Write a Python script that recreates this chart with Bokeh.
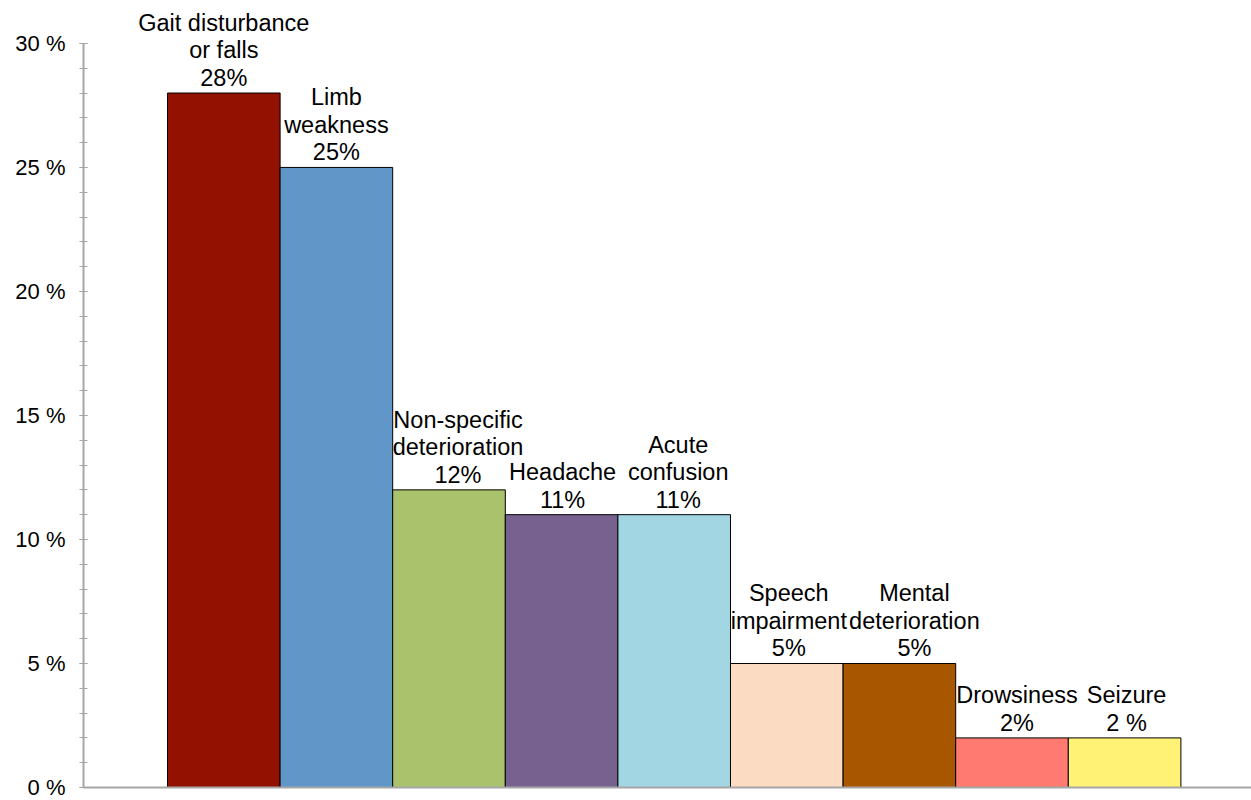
from bokeh.plotting import figure
from bokeh.models import ColumnDataSource, FixedTicker, Range1d
from bokeh.core.properties import value
from bokeh.embed import file_html
from bokeh.resources import INLINE

categories = ["Gait disturbance\nor falls", "Limb\nweakness", "Non-specific\ndeterioration",
              "Headache", "Acute\nconfusion", "Speech\nimpairment", "Mental\ndeterioration",
              "Drowsiness", "Seizure"]
values = [28, 25, 12, 11, 11, 5, 5, 2, 2]
value_labels = ["28%", "25%", "12%", "11%", "11%", "5%", "5%", "2%", "2 %"]
colors = ["#931100", "#6096C8", "#A9C26B", "#76618F", "#A3D6E3",
          "#FBDCC2", "#A85700", "#FF7B71", "#FFF275"]
y_ticks = [0, 5, 10, 15, 20, 25, 30]
y_tick_labels = ["0 %", "5 %", "10 %", "15 %", "20 %", "25 %", "30 %"]

# small horizontal nudges (pixels) of the labels, as in the original layout
label_nudge_px = [0, 0, 9, 1, 4, 2, 15, 5, 2]

xs = list(range(1, len(values) + 1))
src = ColumnDataSource(dict(
    x=xs, top=values, color=colors, dx=label_nudge_px,
    label=[c + "\n" + v for c, v in zip(categories, value_labels)],
))

FONT = "Liberation Sans"

p = figure(width=1251, height=800, output_backend="svg", toolbar_location=None,
           x_range=Range1d(-0.246, 10.127), y_range=Range1d(0, 31.73),
           min_border_left=83, min_border_right=0, min_border_top=0, min_border_bottom=13)
p.outline_line_color = None
p.xgrid.visible = False
p.ygrid.visible = False
p.background_fill_color = "white"
p.border_fill_color = "white"

p.vbar(x="x", top="top", bottom=0, width=1.0, fill_color="color",
       line_color="black", line_width=1, source=src)

p.text(x="x", y="top", text="label", source=src, text_align="center",
       x_offset="dx", text_baseline="bottom", y_offset=-2, text_font=value(FONT),
       text_font_size="23.5px", text_color="black", text_line_height=1.06)

ya = p.yaxis[0]
ya.ticker = FixedTicker(ticks=y_ticks, minor_ticks=list(range(0, 31)))
ya.major_label_overrides = {t: l for t, l in zip(y_ticks, y_tick_labels)}
ya.bounds = (0, 30)
ya.axis_line_color = "#A6A6A6"
ya.axis_line_width = 2
ya.major_tick_line_color = "#A6A6A6"
ya.minor_tick_line_color = "#A6A6A6"
ya.major_tick_in = 4
ya.major_tick_out = 4
ya.minor_tick_in = 4
ya.minor_tick_out = 4
ya.major_label_text_font = FONT
ya.major_label_text_font_size = "22px"
ya.major_label_text_color = "black"
ya.major_label_standoff = 14

xa = p.xaxis[0]
xa.ticker = FixedTicker(ticks=[])
xa.major_label_text_font_size = "0px"
xa.major_tick_line_color = None
xa.minor_tick_line_color = None
xa.axis_line_color = "#A6A6A6"
xa.axis_line_width = 2

open("out.html", "w").write(file_html(p, INLINE))
